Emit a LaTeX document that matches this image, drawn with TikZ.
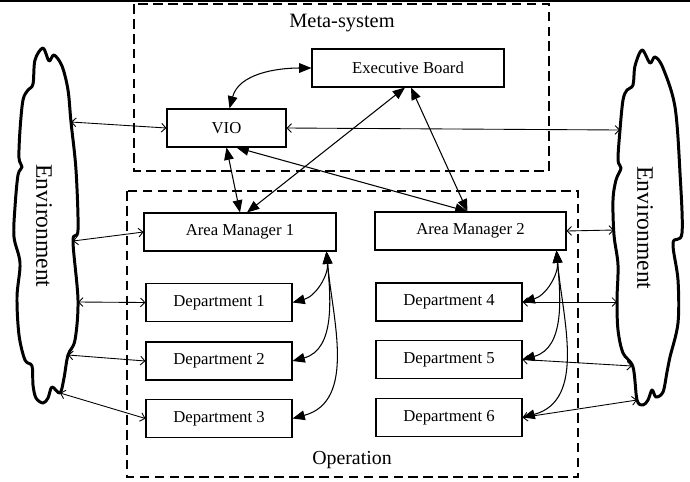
\documentclass[tikz,border=0pt]{standalone}
\usepackage{fontspec}
\setmainfont{Liberation Serif}
\usetikzlibrary{arrows.meta, calc}

\tikzset{
  orgbox/.style={draw, line width=0.6pt, inner sep=0pt, minimum height=0.76cm, font=\fontsize{9.5}{11}\selectfont},
  deptbox/.style={orgbox, minimum width=2.92cm},
  groupbox/.style={draw, line width=0.6pt, dash pattern=on 5.5pt off 3pt},
  cloudline/.style={draw, line width=1.7pt, line join=round},
  envlink/.style={{Straight Barb[length=2.5pt,width=5pt]}-{Straight Barb[length=2.5pt,width=5pt]}, line width=0.5pt},
  mgmtlink/.style={{Triangle[length=7pt,width=5.5pt]}-{Triangle[length=7pt,width=5.5pt]}, line width=0.6pt}
}

\begin{document}
\begin{tikzpicture}[x=0.02cm, y=-0.02cm]
  \useasboundingbox (0,0) rectangle (690,481);
  \draw[line width=1.2pt] (0,1) -- (690,1);

  \draw[groupbox] (134,4) rectangle (549,171);
  \draw[groupbox] (127,191) rectangle (578,477);
  \node[font=\fontsize{11.6}{14}\selectfont] (metalabel) at (342,23) {Meta-system};
  \node[font=\fontsize{11.3}{14}\selectfont] (oplabel) at (352,460) {Operation};

  \draw[cloudline] plot[smooth cycle, tension=0.55] coordinates {
    (43,48) (49,61) (54,55) (62,66) (68,90) (71,122) (76,170) (78,230) (73,241)
    (78,300) (75,340) (68,355) (64,378) (60,393) (52,387) (48,398) (43,403)
    (36,398) (33,385) (32,366) (25,360) (19,335) (17,297) (20,263) (14,237)
    (15,207) (18,175) (22,167) (19,158) (20,130) (23,100) (28,90) (33,84) (35,60)};
  \draw[cloudline] plot[smooth cycle, tension=0.55] coordinates {
    (642,50) (650,63) (655,57) (663,68) (675,107) (680,173) (682,233) (673,243)
    (678,280) (678,323) (670,357) (667,372) (663,392) (656,397) (652,390) (648,400)
    (643,405) (637,400) (633,367) (623,353) (618,330) (617,300) (618,265) (614,235)
    (613,200) (616,180) (621,168) (618,160) (620,130) (623,100) (627,90) (633,85) (635,66)};
  \node[rotate=-90, font=\fontsize{13.4}{16}\selectfont] (envLtext) at (44,226) {Environment};
  \node[rotate=-90, font=\fontsize{13.4}{16}\selectfont] (envRtext) at (645,228) {Environment};

  \coordinate (envL1) at (71,122);
  \coordinate (envL2) at (73,241);
  \coordinate (envL3) at (78,302);
  \coordinate (envL4) at (68,355);
  \coordinate (envL5) at (60,393);
  \coordinate (envR1) at (620,130);
  \coordinate (envR2) at (614,230);
  \coordinate (envR3) at (617,302);
  \coordinate (envR4) at (632,366);
  \coordinate (envR5) at (637,400);

  \node[orgbox, minimum width=3.84cm] (board) at (408,68) {Executive Board};
  \node[orgbox, minimum width=2.38cm] (vio) at (226.5,128) {VIO};
  \node[orgbox, minimum width=3.84cm] (area1) at (240,232) {Area Manager 1};
  \node[orgbox, minimum width=3.82cm] (area2) at (470.5,231) {Area Manager 2};
  \node[deptbox] (dep1) at (219,302.5) {Department 1};
  \node[deptbox] (dep2) at (219,361) {Department 2};
  \node[deptbox] (dep3) at (219,418.5) {Department 3};
  \node[deptbox] (dep4) at (449,302) {Department 4};
  \node[deptbox] (dep5) at (449,359.5) {Department 5};
  \node[deptbox] (dep6) at (449,417.5) {Department 6};

  \draw[mgmtlink] (board.west) to[out=180, in=75] ($(vio.north)+(3,0)$);
  \draw[mgmtlink] (vio.south) -- (area1.north);
  \draw[mgmtlink] ($(vio.south)+(10,0)$) -- ($(area2.north)+(-3,0)$);
  \draw[mgmtlink] ($(board.south)+(-3,0)$) -- ($(area1.north)+(7,0)$);
  \draw[mgmtlink] ($(board.south)+(3,0)$) -- ($(area2.north)+(-3,0)$);
  \foreach \d in {1,2,3}
    \draw[mgmtlink] ($(area1.south east)+(-10,0)$) to[out=-85, in=15] (dep\d.east);
  \foreach \d in {4,5,6}
    \draw[mgmtlink] ($(area2.south east)+(-10,0)$) to[out=-85, in=15] (dep\d.east);

  \draw[envlink] (envL1) -- (vio.west);
  \draw[envlink] (envL2) -- (area1.west);
  \draw[envlink] (envL3) -- (dep1.west);
  \draw[envlink] (envL4) -- (dep2.west);
  \draw[envlink] (envL5) -- (dep3.west);
  \draw[envlink] (vio.east) -- (envR1);
  \draw[envlink] (area2.east) -- (envR2);
  \draw[envlink] (dep4.east) -- (envR3);
  \draw[envlink] (dep5.east) -- (envR4);
  \draw[envlink] (dep6.east) -- (envR5);
\end{tikzpicture}
\end{document}
